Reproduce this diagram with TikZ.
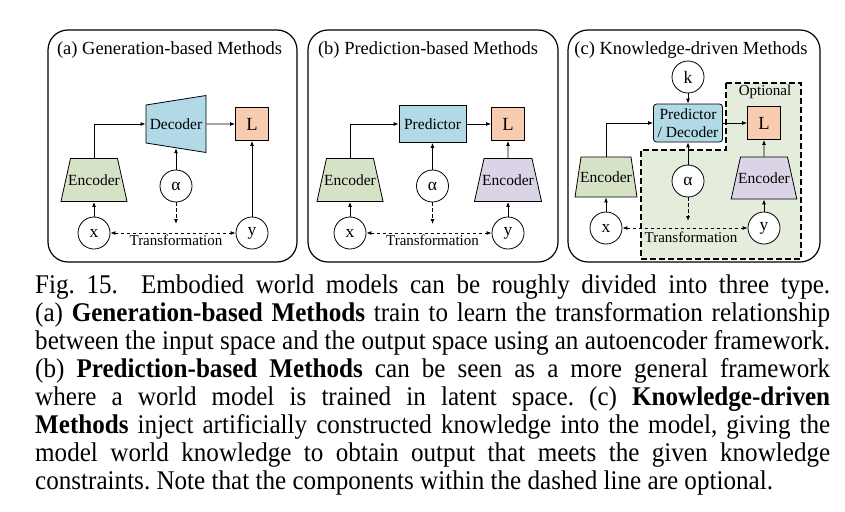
\documentclass[tikz,border=0pt]{standalone}
\usepackage{fontspec}
\setmainfont{Liberation Serif}
\newfontfamily\capfont[FakeStretch=0.93]{Liberation Serif}
\usepackage{tikz}
\usetikzlibrary{arrows.meta,shapes.geometric}

\definecolor{boxblue}{RGB}{177,217,230}
\definecolor{losspeach}{RGB}{248,204,174}
\definecolor{encgreen}{RGB}{214,226,197}
\definecolor{encpurple}{RGB}{218,212,230}
\definecolor{optgreen}{RGB}{228,236,220}

% trapezium body: width, depth, height, text
\newcommand{\trapbody}[4]{\makebox[#1]{\rule[-#2]{0pt}{#3}#4}}

\tikzset{
  panel/.style={draw,line width=1.2pt,rounded corners=20pt},
  ptitle/.style={inner sep=0pt,font=\fontsize{18.5}{20}\selectfont},
  encbox/.style={draw,line width=0.8pt,trapezium,trapezium angle=77.5,inner sep=0pt,
    font=\fontsize{15.5}{17}\selectfont},
  decbox/.style={encbox,shape border rotate=90,trapezium angle=81,fill=boxblue},
  predbox/.style={draw,line width=0.8pt,fill=boxblue,minimum width=67pt,minimum height=37pt,inner sep=0pt,
    font=\fontsize{15.5}{17}\selectfont},
  pdbox/.style={predbox,rounded corners=3pt,minimum width=69pt,minimum height=38pt,align=center,
    font=\fontsize{15.5}{18}\selectfont},
  lossbox/.style={draw,line width=0.8pt,fill=losspeach,minimum size=33pt,inner sep=0pt,font=\fontsize{18.5}{20}\selectfont},
  varnode/.style={draw,line width=0.8pt,circle,fill=white,minimum size=32pt,inner sep=0pt,font=\fontsize{17.5}{19}\selectfont},
  arr/.style={line width=0.9pt,->},
  darr/.style={arr,dash pattern=on 3.5pt off 2.5pt},
  trlab/.style={inner sep=0pt,font=\fontsize{15}{16}\selectfont},
  optreg/.style={draw,fill=optgreen,line width=1.2pt,dash pattern=on 6pt off 3pt},
  capt/.style={anchor=north west,align=left,inner sep=0pt,font=\capfont\fontsize{27}{28}\selectfont\frenchspacing},
}

\begin{document}
\begin{tikzpicture}[x=1pt,y=-1pt,>={Latex[length=5pt,width=4pt]}]
\useasboundingbox (0,0) rectangle (845,511);

% (a) generation-based
\draw[panel] (48,30) rectangle (297,262);
\node[ptitle] (titA) at (169.5,50) {(a) Generation-based Methods};
\node[encbox,fill=encgreen] (encA) at (94,180) {\trapbody{47pt}{16.5pt}{43pt}{Encoder}};
\node[decbox] (decA) at (176,124) {\trapbody{60pt}{14pt}{38pt}{Decoder}};
\node[lossbox] (lossA) at (252,124) {L};
\node[varnode] (alA) at (176,186) {α};
\node[varnode] (xA) at (94,233) {x};
\node[varnode] (yA) at (252,233) {y};
\coordinate (tA) at (176,224);
\node[trlab] (trA) at (176,240) {Transformation};
\draw[arr] (xA) -- (encA);
\draw[arr] (encA.north) |- (decA);
\draw[arr] (decA) -- (lossA);
\draw[arr] (alA) -- (decA);
\draw[arr] (yA) -- (lossA);
\draw[darr] (alA) -- (tA);
\draw[darr,<->] (xA) -- (yA);

% (b) prediction-based
\draw[panel] (308,30) rectangle (558,262);
\node[ptitle] (titB) at (428,50) {(b) Prediction-based Methods};
\node[encbox,fill=encgreen] (encB) at (350,180) {\trapbody{47pt}{16.5pt}{43pt}{Encoder}};
\node[predbox] (predB) at (432.5,124) {Predictor};
\node[lossbox] (lossB) at (508,124) {L};
\node[encbox,fill=encpurple] (encBy) at (508,180) {\trapbody{48pt}{16.5pt}{43pt}{Encoder}};
\node[varnode] (alB) at (432.5,186) {α};
\node[varnode] (xB) at (350,233) {x};
\node[varnode] (yB) at (508,233) {y};
\coordinate (tB) at (432.5,224);
\node[trlab] (trB) at (432.5,240) {Transformation};
\draw[arr] (xB) -- (encB);
\draw[arr] (encB.north) |- (predB);
\draw[arr] (predB) -- (lossB);
\draw[arr] (alB) -- (predB);
\draw[arr] (yB) -- (encBy);
\draw[arr] (encBy) -- (lossB);
\draw[darr] (alB) -- (tB);
\draw[darr,<->] (xB) -- (yB);

% (c) knowledge-driven, dashed part is optional
\draw[panel] (568,30) rectangle (820,262);
\draw[optreg] (726,83) -- (801,83) -- (801,259) -- (641,259) -- (641,150) -- (726,150) -- cycle;
\node[trlab] (optC) at (765,92) {Optional};
\node[ptitle] (titC) at (691,50) {(c) Knowledge-driven Methods};
\node[varnode] (kC) at (688,77) {k};
\node[pdbox] (pdC) at (688,123) {Predictor\\/ Decoder};
\node[lossbox] (lossC) at (764,123) {L};
\node[encbox,fill=encgreen,trapezium angle=81.5] (encC) at (606,177) {\trapbody{50pt}{15pt}{40pt}{Encoder}};
\node[encbox,fill=encpurple] (encCy) at (764,178) {\trapbody{47pt}{16pt}{42pt}{Encoder}};
\node[varnode] (alC) at (688,181) {α};
\node[varnode] (xC) at (606,228) {x};
\node[varnode] (yC) at (764,228) {y};
\coordinate (tC) at (688,221);
\node[trlab] (trC) at (691,237) {Transformation};
\draw[arr] (kC) -- (pdC);
\draw[arr] (xC) -- (encC);
\draw[arr] (encC.north) |- (pdC);
\draw[arr] (pdC) -- (lossC);
\draw[arr] (alC) -- (pdC);
\draw[arr] (yC) -- (encCy);
\draw[arr] (encCy) -- (lossC);
\draw[darr] (alC) -- (tC);
\draw[darr,<->] (xC) -- (yC);

% caption
\node[capt] (cap) at (35,274.5) {%
\makebox[795pt][s]{Fig. 15.\ \ Embodied world models can be roughly divided into three type.}\\
\makebox[795pt][s]{(a) \textbf{Generation-based Methods} train to learn the transformation relationship}\\
\makebox[795pt][s]{between the input space and the output space using an autoencoder framework.}\\
\makebox[795pt][s]{(b) \textbf{Prediction-based Methods} can be seen as a more general framework}\\
\makebox[795pt][s]{where a world model is trained in latent space. (c) \textbf{Knowledge-driven}}\\
\makebox[795pt][s]{\textbf{Methods} inject artificially constructed knowledge into the model, giving the}\\
\makebox[795pt][s]{model world knowledge to obtain output that meets the given knowledge}\\
constraints. Note that the components within the dashed line are optional.};
\end{tikzpicture}
\end{document}
